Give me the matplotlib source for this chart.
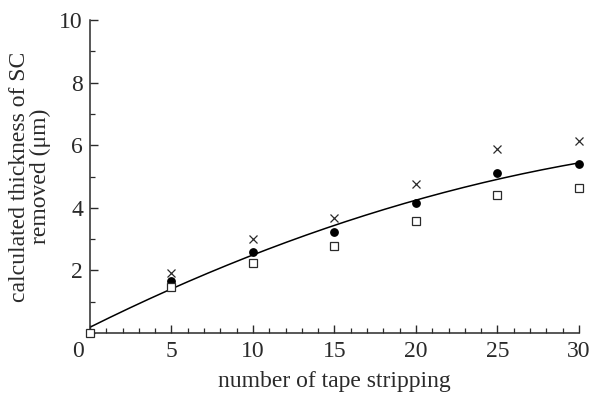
import numpy as np
import matplotlib.pyplot as plt
from matplotlib.ticker import MultipleLocator
from matplotlib.transforms import ScaledTranslation

plt.rcParams['font.family'] = ['Liberation Serif', 'DejaVu Serif']

# datos
strips = [0, 5, 10, 15, 20, 25, 30]
circulos = [0.0, 1.67, 2.60, 3.24, 4.16, 5.12, 5.39]
cruces = [0.0, 1.93, 3.00, 3.68, 4.76, 5.88, 6.12]
cuadros = [0.0, 1.48, 2.25, 2.77, 3.58, 4.41, 4.64]
curva = [0.18, 1.42, 2.50, 3.42, 4.25, 4.92, 5.43]

gris = '#2a2a2a'

fig = plt.figure(figsize=(5.92, 4.0), dpi=100)
ax = fig.add_axes([0.152, 0.1675, 0.826, 0.7825])

coef = np.polyfit(strips, curva, 2)
xs = np.linspace(0, 30, 200)
ax.plot(xs, np.polyval(coef, xs), '-', color='black', lw=1.1, zorder=2)

ax.plot(strips[1:], cruces[1:], 'x', color=gris, ms=5.5, mew=0.9, zorder=3, clip_on=False)
ax.plot(strips[1:], circulos[1:], 'o', color='black', ms=5.3, zorder=3, clip_on=False)
ax.plot(strips, cuadros, 's', mfc='white', mec=gris, ms=5.3, mew=0.9, zorder=4, clip_on=False)

ax.set_xlim(0, 30)
ax.set_ylim(0, 10)
ax.xaxis.set_major_locator(MultipleLocator(5))
ax.xaxis.set_minor_locator(MultipleLocator(1))
ax.yaxis.set_major_locator(MultipleLocator(2))
ax.yaxis.set_minor_locator(MultipleLocator(1))

ax.spines['top'].set_visible(False)
ax.spines['right'].set_visible(False)
for s in ['left', 'bottom']:
    ax.spines[s].set_color(gris)
    ax.spines[s].set_linewidth(1.1)

ax.tick_params(which='both', direction='in', color=gris, labelcolor=gris, labelsize=17)
ax.tick_params(which='major', length=6, width=1.0)
ax.tick_params(which='minor', length=3.5, width=0.9)
ax.tick_params(axis='x', pad=6)
ax.tick_params(axis='y', pad=5)

ax.set_yticks([2, 4, 6, 8, 10])
ax.set_xticks(strips)
ax.set_xticklabels([str(v) for v in strips])
lbl0 = ax.get_xticklabels()[0]
lbl0.set_transform(lbl0.get_transform() + ScaledTranslation(-0.12, 0, fig.dpi_scale_trans))

ax.set_xlabel('number of tape stripping', fontsize=17, color=gris, labelpad=6)
ax.set_ylabel('calculated thickness of SC\nremoved (μm)', fontsize=17, color=gris,
              linespacing=1.0, labelpad=6)

fig.savefig('out.png', dpi=100)
